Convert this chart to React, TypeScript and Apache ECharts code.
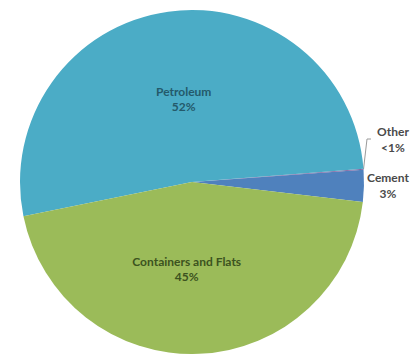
import React, { useEffect, useRef } from "react";
import * as echarts from "echarts";

// Share of freight by commodity type (percent)
const categories = ["Cement", "Other", "Petroleum", "Containers and Flats"];
const shares = [3, 0.1, 52, 45];
const shareLabels = ["3%", "<1%", "52%", "45%"];
const colors = ["#4F81BD", "#8064A2", "#4BACC6", "#9BBB59"];

export default function App() {
  const ref = useRef<HTMLDivElement>(null);

  useEffect(() => {
    if (!ref.current) return;
    const chart = echarts.init(ref.current, undefined, { renderer: "svg" });

    const insideLabel = (color: string, offset: number[]) => ({
      position: "inside",
      offset,
      formatter: (p: any) => `${p.name}\n${shareLabels[p.dataIndex]}`,
      color,
      fontFamily: "Lato",
      fontWeight: "bold",
      fontSize: 12,
      lineHeight: 15,
    });

    const outsideLabel = {
      position: "outside",
      formatter: (p: any) => `{t|${p.name}}\n{t|${shareLabels[p.dataIndex]}}`,
      rich: {
        t: {
          width: 44,
          align: "center",
          color: "#4a4a4a",
          fontFamily: "Lato",
          fontWeight: "bold",
          fontSize: 12,
          lineHeight: 16,
        },
      },
    };

    const data = categories.map((name, i) => {
      const item: any = {
        name,
        value: shares[i],
        itemStyle: { color: colors[i] },
      };
      if (name === "Petroleum") item.label = insideLabel("#245a6b", [4, 5]);
      else if (name === "Containers and Flats")
        item.label = insideLabel("#3c5320", [-9, -2]);
      else item.label = outsideLabel;
      if (name === "Cement") item.labelLine = { show: false };
      return item;
    });

    chart.setOption({
      animation: false,
      backgroundColor: "#ffffff",
      series: [
        {
          type: "pie",
          center: [192, 182],
          radius: 172,
          startAngle: 353.3,
          clockwise: false,
          avoidLabelOverlap: false,
          label: { show: true },
          labelLine: {
            show: true,
            length: 4,
            length2: 4,
            lineStyle: { color: "#9a9a9a", width: 1 },
          },
          labelLayout: (params: any) => {
            if (params.dataIndex === 1) {
              return { x: 371, y: 123, align: "left", verticalAlign: "top" };
            }
            if (params.dataIndex === 0) {
              return { x: 366, y: 169, align: "left", verticalAlign: "top" };
            }
            return {};
          },
          data,
        },
      ],
    });

    return () => chart.dispose();
  }, []);

  return (
    <div
      ref={ref}
      style={{ position: "fixed", left: 0, top: 0, width: 412, height: 354 }}
    />
  );
}
